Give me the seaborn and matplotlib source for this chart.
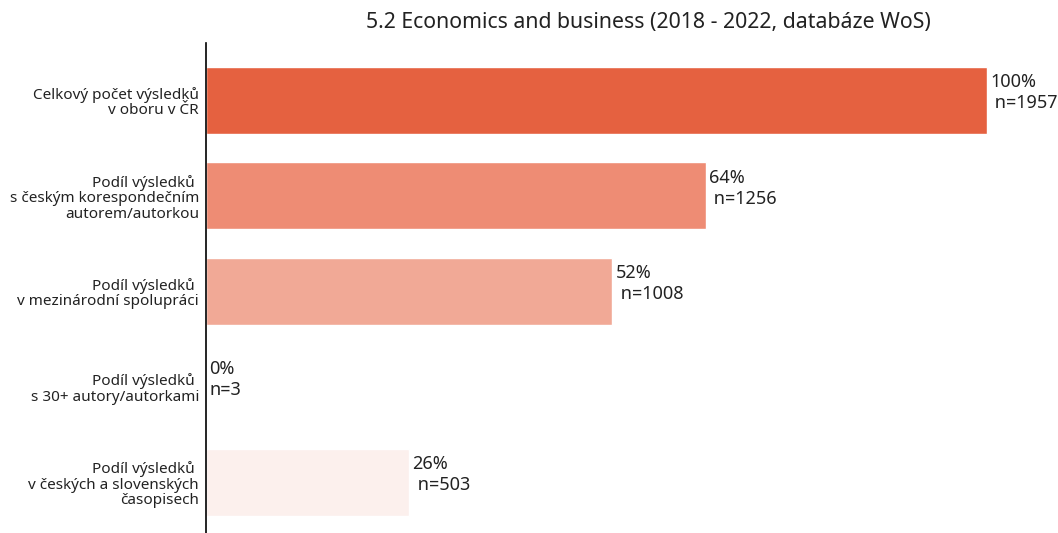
import matplotlib
matplotlib.use('Agg')
import matplotlib.pyplot as plt
import seaborn as sns
import pandas as pd

labels = [
    'Celkový počet výsledků\nv oboru v ČR',
    'Podíl výsledků \ns českým korespondečním\nautorem/autorkou',
    'Podíl výsledků \nv mezinárodní spolupráci',
    'Podíl výsledků \ns 30+ autory/autorkami',
    'Podíl výsledků \nv českých a slovenských\nčasopisech',
]
pct = [100, 64, 52, 0, 26]
counts = [1957, 1256, 1008, 3, 503]
bar_colors = ['#E56140', '#EE8C74', '#F1A996', '#FBE9E4', '#FCF0ED']

sns.set_style('white')
plt.rcParams['font.family'] = ['Noto Sans', 'DejaVu Sans']

df = pd.DataFrame({'label': labels, 'pct': pct})

fig = plt.figure(figsize=(10.58, 5.33), dpi=100)
ax = fig.add_axes([206 / 1058, 0, 852 / 1058, 490 / 533])

sns.barplot(data=df, x='pct', y='label', hue='label', palette=bar_colors,
            legend=False, width=0.7, ax=ax, saturation=1)

# popisky u sloupcu
for i, (p, n) in enumerate(zip(pct, counts)):
    second = 'n=%d' % n if p == 0 else ' n=%d' % n
    ax.text(p + 0.45, i - 0.08, '%d%%\n%s' % (p, second), va='center', ha='left',
            fontsize=13, color='#222222', linespacing=1.2)

ax.set_xlim(0, 109.1)
ax.set_ylim(4.53, -0.6)
ax.set_xlabel('')
ax.set_ylabel('')
ax.set_xticks([])
ax.tick_params(axis='y', length=3, width=0.8, labelsize=11, colors='#222222', pad=2)
for s in ['top', 'right', 'bottom']:
    ax.spines[s].set_visible(False)
ax.spines['left'].set_color('black')
ax.spines['left'].set_linewidth(1.2)
for t in ax.get_yticklabels():
    t.set_horizontalalignment('right')
    t.set_multialignment('right')
    t.set_linespacing(1.05)

fig.text(648 / 1058, 1 - 22 / 533, '5.2 Economics and business (2018 - 2022, databáze WoS)',
         ha='center', va='center', fontsize=15.3, color='#222222')

fig.savefig('out.png', dpi=100)
